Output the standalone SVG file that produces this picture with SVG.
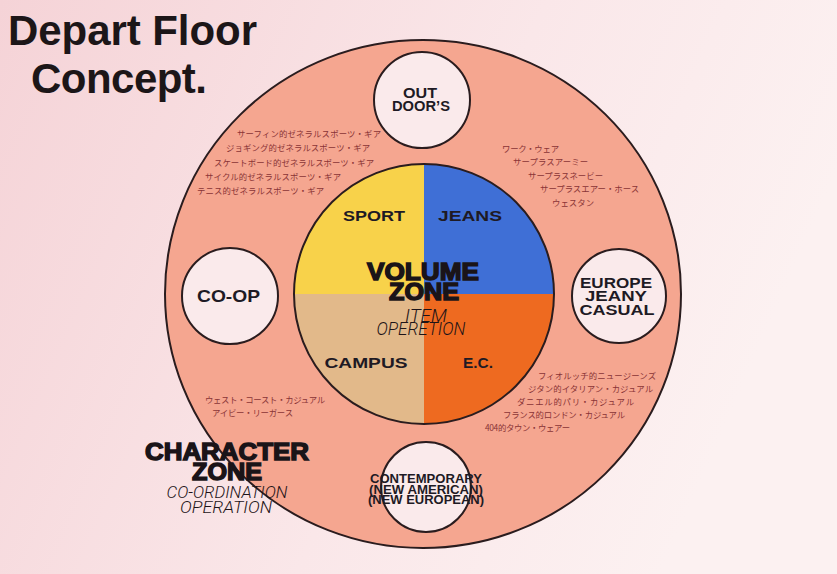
<svg xmlns="http://www.w3.org/2000/svg" width="837" height="574" viewBox="0 0 837 574">
<defs>
<linearGradient id="bg" x1="0" y1="0" x2="1" y2="0.3">
<stop offset="0" stop-color="#f5d3d7"/>
<stop offset="0.6" stop-color="#fae7e9"/>
<stop offset="1" stop-color="#fcf1f1"/>
</linearGradient>
<style>
.outline{stroke:#2a1c1e;stroke-width:2}
.small{fill:#faeaeb}
.lbl{font-family:"Liberation Sans",Arial,sans-serif;font-weight:bold;fill:#1e1a24;text-anchor:middle}
.heavy{font-family:"Liberation Sans",Arial,sans-serif;font-weight:bold;fill:#1a1418;stroke:#1a1418;stroke-width:1.4;text-anchor:middle}
.thin{font-family:Roboto,"Liberation Sans",sans-serif;font-weight:300;font-style:italic;fill:#1e1418;text-anchor:middle}
.jp{font-family:"Noto Sans CJK JP",sans-serif;font-size:8.4px;fill:#8a3436}
.title{font-family:"Liberation Sans",Arial,sans-serif;font-weight:bold;font-size:42px;fill:#1c1618}
</style>
</defs>
<rect width="837" height="574" fill="url(#bg)"/>

<g id="title">
<text class="title" x="8" y="45" textLength="249">Depart Floor</text>
<text class="title" x="31" y="93" textLength="176">Concept.</text>
</g>

<g id="character-zone">
<ellipse cx="423" cy="294" rx="258" ry="254" fill="#f5a690" class="outline"/>
</g>

<g id="volume-zone">
<path d="M424 294 L424 164 A130 130 0 0 0 294 294 Z" fill="#f8d24a"/>
<path d="M424 294 L554 294 A130 130 0 0 0 424 164 Z" fill="#3f6fd6"/>
<path d="M424 294 L294 294 A130 130 0 0 0 424 424 Z" fill="#e2b98a"/>
<path d="M424 294 L424 424 A130 130 0 0 0 554 294 Z" fill="#ee6a20"/>
<circle cx="424" cy="294" r="130" fill="none" class="outline"/>
<text class="lbl" x="374" y="221" font-size="15.5" textLength="62" lengthAdjust="spacingAndGlyphs">SPORT</text>
<text class="lbl" x="470" y="221" font-size="15.5" textLength="64" lengthAdjust="spacingAndGlyphs">JEANS</text>
<text class="lbl" x="366" y="368" font-size="15.5" textLength="83" lengthAdjust="spacingAndGlyphs">CAMPUS</text>
<text class="lbl" x="478" y="368" font-size="15.5" textLength="30" lengthAdjust="spacingAndGlyphs">E.C.</text>
<text class="heavy" x="423" y="280" font-size="23" textLength="112" lengthAdjust="spacingAndGlyphs">VOLUME</text>
<text class="heavy" x="424" y="300" font-size="23" textLength="70" lengthAdjust="spacingAndGlyphs">ZONE</text>
<text class="thin" x="426" y="322" font-size="19" textLength="42" lengthAdjust="spacingAndGlyphs">ITEM</text>
<text class="thin" x="421" y="335" font-size="19" textLength="89" lengthAdjust="spacingAndGlyphs">OPERETION</text>
</g>

<g id="outdoors">
<circle cx="422" cy="100" r="48" class="small outline"/>
<text class="lbl" x="420" y="98" font-size="14.5" textLength="34" lengthAdjust="spacingAndGlyphs">OUT</text>
<text class="lbl" x="421" y="111" font-size="14.5" textLength="58" lengthAdjust="spacingAndGlyphs">DOOR’S</text>
</g>

<g id="coop">
<circle cx="230" cy="296" r="48" class="small outline"/>
<text class="lbl" x="228.5" y="302" font-size="17" textLength="63" lengthAdjust="spacingAndGlyphs">CO-OP</text>
</g>

<g id="europe">
<circle cx="619" cy="296" r="47" class="small outline"/>
<text class="lbl" x="616" y="288" font-size="14" textLength="72" lengthAdjust="spacingAndGlyphs">EUROPE</text>
<text class="lbl" x="616" y="301" font-size="14" textLength="62" lengthAdjust="spacingAndGlyphs">JEANY</text>
<text class="lbl" x="617" y="315" font-size="14" textLength="75" lengthAdjust="spacingAndGlyphs">CASUAL</text>
</g>

<g id="contemporary">
<circle cx="426" cy="487" r="45" class="small outline"/>
<text class="lbl" x="426" y="483" font-size="12.5" textLength="112" lengthAdjust="spacingAndGlyphs">CONTEMPORARY</text>
<text class="lbl" x="426" y="493.5" font-size="12.5" textLength="114" lengthAdjust="spacingAndGlyphs">(NEW AMERICAN)</text>
<text class="lbl" x="426" y="503.5" font-size="12.5" textLength="116" lengthAdjust="spacingAndGlyphs">(NEW EUROPEAN)</text>
</g>

<g id="character-label">
<text class="heavy" x="227" y="460" font-size="23" textLength="164" lengthAdjust="spacingAndGlyphs">CHARACTER</text>
<text class="heavy" x="227" y="480" font-size="23" textLength="70" lengthAdjust="spacingAndGlyphs">ZONE</text>
<text class="thin" x="227" y="498" font-size="17" textLength="121" lengthAdjust="spacingAndGlyphs">CO-ORDINATION</text>
<text class="thin" x="226" y="513" font-size="17" textLength="92" lengthAdjust="spacingAndGlyphs">OPERATION</text>
</g>

<g id="sport-notes">
<text class="jp" x="237" y="137" textLength="144">サーフィン的ゼネラルスポーツ・ギア</text>
<text class="jp" x="226" y="151" textLength="144">ジョギング的ゼネラルスポーツ・ギア</text>
<text class="jp" x="214" y="166" textLength="160">スケートボード的ゼネラルスポーツ・ギア</text>
<text class="jp" x="205" y="180" textLength="136">サイクル的ゼネラルスポーツ・ギア</text>
<text class="jp" x="197" y="194" textLength="127">テニス的ゼネラルスポーツ・ギア</text>
</g>

<g id="jeans-notes">
<text class="jp" x="502" y="152" textLength="57">ワーク・ウェア</text>
<text class="jp" x="513" y="165" textLength="75">サープラスアーミー</text>
<text class="jp" x="528" y="179" textLength="75">サープラスネービー</text>
<text class="jp" x="540" y="192" textLength="99">サープラスエアー・ホース</text>
<text class="jp" x="552" y="206" textLength="42">ウェスタン</text>
</g>

<g id="ec-notes">
<text class="jp" x="538" y="379" textLength="118">フィオルッチ的ニュージーンズ</text>
<text class="jp" x="528" y="392" textLength="125">ジタン的イタリアン・カジュアル</text>
<text class="jp" x="517" y="405" textLength="117">ダニエル的パリ・カジュアル</text>
<text class="jp" x="503" y="418" textLength="122">フランス的ロンドン・カジュアル</text>
<text class="jp" x="485" y="431" textLength="85">404的タウン・ウェアー</text>
</g>

<g id="campus-notes">
<text class="jp" x="205" y="403" textLength="120">ウェスト・コースト・カジュアル</text>
<text class="jp" x="212" y="416" textLength="81">アイビー・リーガース</text>
</g>
</svg>
